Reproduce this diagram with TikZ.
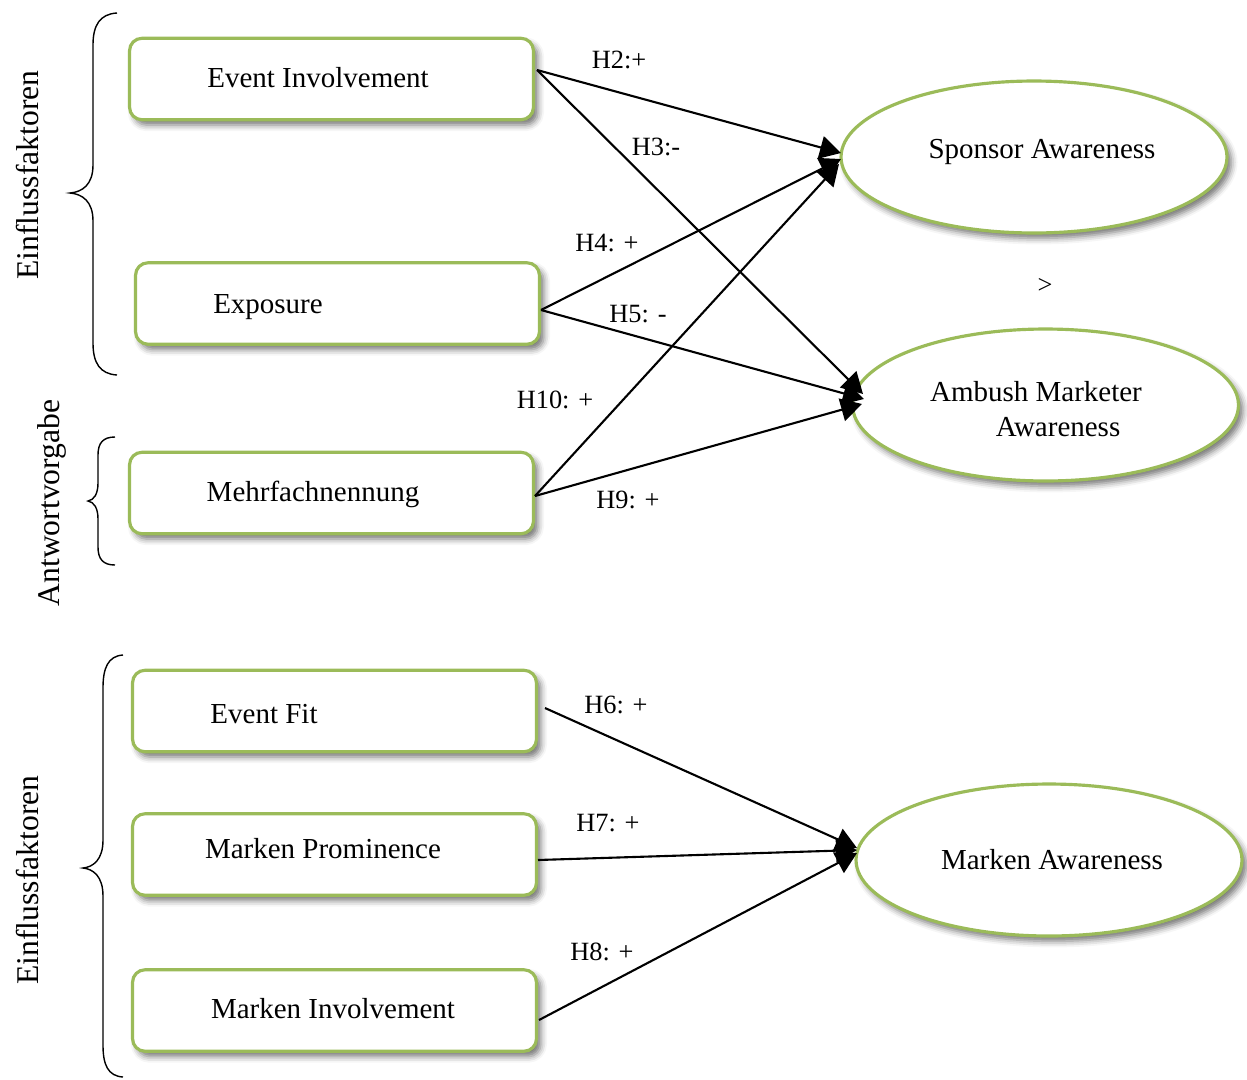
\documentclass[tikz,border=0pt]{standalone}
\usepackage{fontspec}
\setmainfont{Liberation Serif}
\usetikzlibrary{shapes.geometric,shadows.blur,arrows.meta}
\definecolor{leafgreen}{RGB}{155,187,89}
\begin{document}
\begin{tikzpicture}[x=0.02cm,y=-0.02cm,
  softshadow/.style={blur shadow={shadow xshift=2.5pt, shadow yshift=-3pt, shadow blur radius=3.5pt, shadow opacity=55}},
  factor/.style={draw=leafgreen, line width=1.8pt, rounded corners=0.25cm, fill=white,
    minimum width=8.08cm, minimum height=1.63cm, inner sep=0pt, softshadow},
  outcome/.style={ellipse, draw=leafgreen, line width=1.8pt, fill=white,
    minimum width=7.72cm, minimum height=3.04cm, inner sep=0pt, softshadow},
  lbl/.style={font=\fontsize{16.5}{19}\selectfont, inner sep=0pt},
  hyp/.style={font=\fontsize{15}{18}\selectfont, inner sep=0pt},
  side/.style={font=\fontsize{18}{21}\selectfont, rotate=90, inner sep=0pt},
  link/.style={line width=1.2pt, -{Triangle[length=0.42cm,width=0.46cm]}},
  brace/.style={line width=0.8pt}
]
\useasboundingbox (0,0) rectangle (1247,1079);

% influence factors (boxes)
\node[factor] (ei) at (331.5,79) {};
\node[lbl] (ei-t) at (318,78) {Event Involvement};
\node[factor] (ex) at (337.5,303.5) {};
\node[lbl] (ex-t) at (268,307) {Exposure};
\node[factor] (mf) at (331.5,493) {};
\node[lbl] (mf-t) at (313,494) {Mehrfachnennung};
\node[factor] (ef) at (334.5,711) {};
\node[lbl] (ef-t) at (264,714) {Event Fit};
\node[factor] (mp) at (334.5,854.5) {};
\node[lbl] (mp-t) at (323,849) {Marken Prominence};
\node[factor] (mi) at (334.5,1010.5) {};
\node[lbl] (mi-t) at (333,1009) {Marken Involvement};

% outcomes (ellipses)
\node[outcome] (sa) at (1034,157) {};
\node[lbl] (sa-t) at (1042,152) {Sponsor Awareness};
\node[outcome] (am) at (1045.5,405) {};
\node[lbl] (am-t1) at (1036,392) {Ambush Marketer};
\node[lbl] (am-t2) at (1058,427) {Awareness};
\node[outcome] (ma) at (1049,860) {};
\node[lbl] (ma-t) at (1052,860) {Marken Awareness};

\node[hyp] (gt) at (1045,286) {>};

% connector ends
\coordinate (ei-o) at (537,70);
\coordinate (ex-o) at (541,310);
\coordinate (mf-o) at (535,496);
\coordinate (ef-o) at (545,708);
\coordinate (mp-o) at (538,860);
\coordinate (mi-o) at (539,1020);
\coordinate (sa-1) at (841,153);
\coordinate (sa-2) at (841,159);
\coordinate (sa-3) at (839,164);
\coordinate (am-1) at (863,394);
\coordinate (am-2) at (864,399);
\coordinate (am-3) at (862,404);
\coordinate (ma-1) at (857,848);
\coordinate (ma-2) at (857,850);
\coordinate (ma-3) at (857,853);

% hypotheses
\draw[link] (ei-o) -- (sa-1);
\draw[link] (ei-o) -- (am-1);
\draw[link] (ex-o) -- (sa-2);
\draw[link] (ex-o) -- (am-2);
\draw[link] (mf-o) -- (sa-3);
\draw[link] (mf-o) -- (am-3);
\draw[link] (ef-o) -- (ma-1);
\draw[link] (mp-o) -- (ma-2);
\draw[link] (mi-o) -- (ma-3);

\node[hyp] (h2) at (619,60) {H2:+};
\node[hyp] (h3) at (656,147) {H3:-};
\node[hyp] (h4) at (607,243) {H4: +};
\node[hyp] (h5) at (638,314) {H5: -};
\node[hyp] (h10) at (555,400) {H10: +};
\node[hyp] (h9) at (628,500) {H9: +};
\node[hyp] (h6) at (616,705) {H6: +};
\node[hyp] (h7) at (608,823) {H7: +};
\node[hyp] (h8) at (602,952) {H8: +};

% grouping braces
\draw[brace] (117,13) .. controls (100,14) and (93,25) .. (93,45) -- (93,165)
  .. controls (93,185) and (82,192) .. (70,193)
  .. controls (82,194) and (93,201) .. (93,221) -- (93,343)
  .. controls (93,363) and (100,374) .. (117,375);
\draw[brace] (115,437) .. controls (103,437) and (98,443) .. (98,455) -- (98,483)
  .. controls (98,494) and (94,500) .. (88,501)
  .. controls (94,502) and (98,508) .. (98,519) -- (98,547)
  .. controls (98,559) and (103,565) .. (115,565);
\draw[brace] (123,655) .. controls (108,656) and (103,668) .. (103,688) -- (103,840)
  .. controls (103,860) and (93,867) .. (83,868)
  .. controls (93,869) and (103,876) .. (103,896) -- (103,1045)
  .. controls (103,1065) and (108,1076) .. (123,1077);

\node[side] (g1) at (28,175) {Einflussfaktoren};
\node[side] (g2) at (52,503) {Antwortvorgabe};
\node[side] (g3) at (28,880) {Einflussfaktoren};
\end{tikzpicture}
\end{document}
